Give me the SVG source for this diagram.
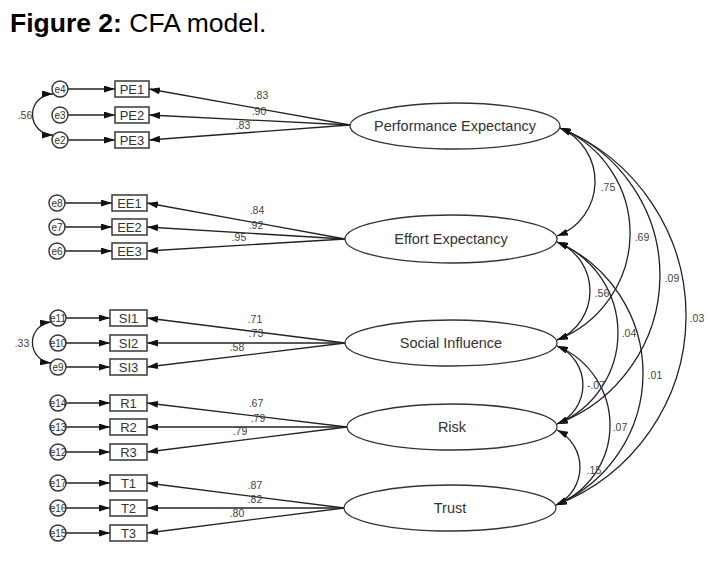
<svg xmlns="http://www.w3.org/2000/svg" width="720" height="564" viewBox="0 0 720 564">
<defs>
<marker id="ah" viewBox="0 0 11 7" refX="11" refY="3.5" markerWidth="11" markerHeight="7" markerUnits="userSpaceOnUse" orient="auto-start-reverse">
<path d="M0,0 L11,3.5 L0,7 z" fill="#111"/>
</marker>
<style>
.ln{stroke:#222;stroke-width:1.3;fill:none}
.ar{stroke:#222;stroke-width:1.3;fill:none;marker-end:url(#ah)}
.cv{stroke:#222;stroke-width:1.3;fill:none;marker-start:url(#ah);marker-end:url(#ah)}
.box{fill:#fff;stroke:#444;stroke-width:1.6}
.err{fill:#fff;stroke:#333;stroke-width:1.4}
.ell{fill:#fff;stroke:#333;stroke-width:1.3}
.t{font-family:"Liberation Sans",Arial,sans-serif;fill:#333}
.bl{font-size:13px;text-anchor:middle}
.el{font-size:10px;text-anchor:middle}
.fl{font-size:14.5px;text-anchor:middle}
.nm{font-size:10.5px;text-anchor:middle;fill:#444}
</style>
</defs>
<rect width="720" height="564" fill="#fff"/>
<text x="10" y="32" font-family="'Liberation Sans',Arial,sans-serif" font-size="26.5" fill="#000"><tspan font-weight="bold">Figure 2:</tspan> CFA model.</text>

<g id="connectors">
<path class="ar" d="M68,89 H115"/><path class="ar" d="M68,115 H115"/><path class="ar" d="M68,140 H115"/>
<path class="ar" d="M65,203 H112"/><path class="ar" d="M65,227 H112"/><path class="ar" d="M65,251 H112"/>
<path class="ar" d="M66,318 H110"/><path class="ar" d="M66,343 H110"/><path class="ar" d="M66,367 H110"/>
<path class="ar" d="M66,403 H110"/><path class="ar" d="M66,427 H110"/><path class="ar" d="M66,452 H110"/>
<path class="ar" d="M66,483 H110"/><path class="ar" d="M66,508 H110"/><path class="ar" d="M66,533 H110"/>
<path class="ar" d="M350,125 L149,89"/><path class="ar" d="M350,125 L149,115"/><path class="ar" d="M350,125 L149,140"/>
<path class="ar" d="M345,239 L147,203"/><path class="ar" d="M345,239 L147,227"/><path class="ar" d="M345,239 L147,251"/>
<path class="ar" d="M345,343 L147,318"/><path class="ar" d="M345,343 L147,343"/><path class="ar" d="M345,343 L147,367"/>
<path class="ar" d="M347,427 L147,403"/><path class="ar" d="M347,427 L147,427"/><path class="ar" d="M347,427 L147,452"/>
<path class="ar" d="M344,508 L147,483"/><path class="ar" d="M344,508 L147,508"/><path class="ar" d="M344,508 L147,533"/>
<path class="cv" d="M53,94 A20.5,20.5 0 0 0 53,135"/>
<path class="cv" d="M51,322 A20.6,20.6 0 0 0 51,363"/>
<path class="cv" d="M560,128 A58.2,58.2 0 0 1 557,236"/>
<path class="cv" d="M560,128 A114.3,114.3 0 0 1 557,340"/>
<path class="cv" d="M560,128 A158.7,158.7 0 0 1 557,424"/>
<path class="cv" d="M560,128 A202.8,202.8 0 0 1 556,505"/>
<path class="cv" d="M557,242 A52.9,52.9 0 0 1 557,340"/>
<path class="cv" d="M557,242 A98.4,98.4 0 0 1 557,424"/>
<path class="cv" d="M557,242 A143.2,143.2 0 0 1 556,505"/>
<path class="cv" d="M557,346 A42.3,42.3 0 0 1 557,424"/>
<path class="cv" d="M557,346 A85.8,85.8 0 0 1 556,505"/>
<path class="cv" d="M557,430 A41.7,41.7 0 0 1 556,505"/>
</g>

<g id="labels" class="t">
<text class="nm" x="261" y="99">.83</text><text class="nm" x="259" y="115">.90</text><text class="nm" x="243" y="129">.83</text>
<text class="nm" x="257" y="214">.84</text><text class="nm" x="256" y="229">.92</text><text class="nm" x="239" y="241">.95</text>
<text class="nm" x="255" y="323">.71</text><text class="nm" x="256" y="337">.73</text><text class="nm" x="237" y="351">.58</text>
<text class="nm" x="256" y="407">.67</text><text class="nm" x="258" y="422">.79</text><text class="nm" x="240" y="435">.79</text>
<text class="nm" x="255" y="489">.87</text><text class="nm" x="255" y="503">.82</text><text class="nm" x="237" y="517">.80</text>
<text class="nm" x="25" y="119">.56</text><text class="nm" x="22" y="347">.33</text>
<text class="nm" x="608" y="191">.75</text>
<text class="nm" x="642" y="241">.69</text>
<text class="nm" x="672" y="282">.09</text>
<text class="nm" x="697" y="322">.03</text>
<text class="nm" x="602" y="297">.56</text>
<text class="nm" x="629" y="337">.04</text>
<text class="nm" x="655" y="379">.01</text>
<text class="nm" x="596" y="389">-.07</text>
<text class="nm" x="620" y="431">.07</text>
<text class="nm" x="594" y="474">.15</text>
</g>

<g id="PE" class="t"><ellipse class="ell" cx="455" cy="126" rx="105" ry="23"/><text class="fl" x="455" y="131">Performance Expectancy</text></g>
<g id="EE" class="t"><ellipse class="ell" cx="451" cy="239" rx="106" ry="24"/><text class="fl" x="451" y="244">Effort Expectancy</text></g>
<g id="SI" class="t"><ellipse class="ell" cx="451" cy="343" rx="106" ry="23"/><text class="fl" x="451" y="348">Social Influence</text></g>
<g id="R" class="t"><ellipse class="ell" cx="452" cy="427" rx="105" ry="23"/><text class="fl" x="452" y="432">Risk</text></g>
<g id="T" class="t"><ellipse class="ell" cx="450" cy="508" rx="106" ry="23"/><text class="fl" x="450" y="513">Trust</text></g>

<g id="PE1" class="t"><rect class="box" x="115" y="81" width="34" height="16"/><text class="bl" x="132" y="94">PE1</text></g>
<g id="PE2" class="t"><rect class="box" x="115" y="107" width="34" height="16"/><text class="bl" x="132" y="120">PE2</text></g>
<g id="PE3" class="t"><rect class="box" x="115" y="132" width="34" height="16"/><text class="bl" x="132" y="145">PE3</text></g>
<g id="EE1" class="t"><rect class="box" x="112" y="195" width="35" height="16"/><text class="bl" x="129.5" y="208">EE1</text></g>
<g id="EE2" class="t"><rect class="box" x="112" y="219" width="35" height="16"/><text class="bl" x="129.5" y="232">EE2</text></g>
<g id="EE3" class="t"><rect class="box" x="112" y="243" width="35" height="16"/><text class="bl" x="129.5" y="256">EE3</text></g>
<g id="SI1" class="t"><rect class="box" x="110" y="310" width="37" height="16"/><text class="bl" x="128.5" y="323">SI1</text></g>
<g id="SI2" class="t"><rect class="box" x="110" y="335" width="37" height="16"/><text class="bl" x="128.5" y="348">SI2</text></g>
<g id="SI3" class="t"><rect class="box" x="110" y="359" width="37" height="16"/><text class="bl" x="128.5" y="372">SI3</text></g>
<g id="R1" class="t"><rect class="box" x="110" y="395" width="37" height="16"/><text class="bl" x="128.5" y="408">R1</text></g>
<g id="R2" class="t"><rect class="box" x="110" y="419" width="37" height="16"/><text class="bl" x="128.5" y="432">R2</text></g>
<g id="R3" class="t"><rect class="box" x="110" y="444" width="37" height="16"/><text class="bl" x="128.5" y="457">R3</text></g>
<g id="T1" class="t"><rect class="box" x="110" y="475" width="37" height="16"/><text class="bl" x="128.5" y="488">T1</text></g>
<g id="T2" class="t"><rect class="box" x="110" y="500" width="37" height="16"/><text class="bl" x="128.5" y="513">T2</text></g>
<g id="T3" class="t"><rect class="box" x="110" y="525" width="37" height="16"/><text class="bl" x="128.5" y="538">T3</text></g>

<g id="e4" class="t"><circle class="err" cx="60" cy="89" r="8"/><text class="el" x="60" y="92.5">e4</text></g>
<g id="e3" class="t"><circle class="err" cx="60" cy="115" r="8"/><text class="el" x="60" y="118.5">e3</text></g>
<g id="e2" class="t"><circle class="err" cx="60" cy="140" r="8"/><text class="el" x="60" y="143.5">e2</text></g>
<g id="e8" class="t"><circle class="err" cx="57" cy="203" r="8"/><text class="el" x="57" y="206.5">e8</text></g>
<g id="e7" class="t"><circle class="err" cx="57" cy="227" r="8"/><text class="el" x="57" y="230.5">e7</text></g>
<g id="e6" class="t"><circle class="err" cx="57" cy="251" r="8"/><text class="el" x="57" y="254.5">e6</text></g>
<g id="e11" class="t"><circle class="err" cx="58" cy="318" r="8"/><text class="el" x="58" y="321.5">e11</text></g>
<g id="e10" class="t"><circle class="err" cx="58" cy="343" r="8"/><text class="el" x="58" y="346.5">e10</text></g>
<g id="e9" class="t"><circle class="err" cx="58" cy="367" r="8"/><text class="el" x="58" y="370.5">e9</text></g>
<g id="e14" class="t"><circle class="err" cx="58" cy="403" r="8"/><text class="el" x="58" y="406.5">e14</text></g>
<g id="e13" class="t"><circle class="err" cx="58" cy="427" r="8"/><text class="el" x="58" y="430.5">e13</text></g>
<g id="e12" class="t"><circle class="err" cx="58" cy="452" r="8"/><text class="el" x="58" y="455.5">e12</text></g>
<g id="e17" class="t"><circle class="err" cx="58" cy="483" r="8"/><text class="el" x="58" y="486.5">e17</text></g>
<g id="e16" class="t"><circle class="err" cx="58" cy="508" r="8"/><text class="el" x="58" y="511.5">e16</text></g>
<g id="e15" class="t"><circle class="err" cx="58" cy="533" r="8"/><text class="el" x="58" y="536.5">e15</text></g>
</svg>
